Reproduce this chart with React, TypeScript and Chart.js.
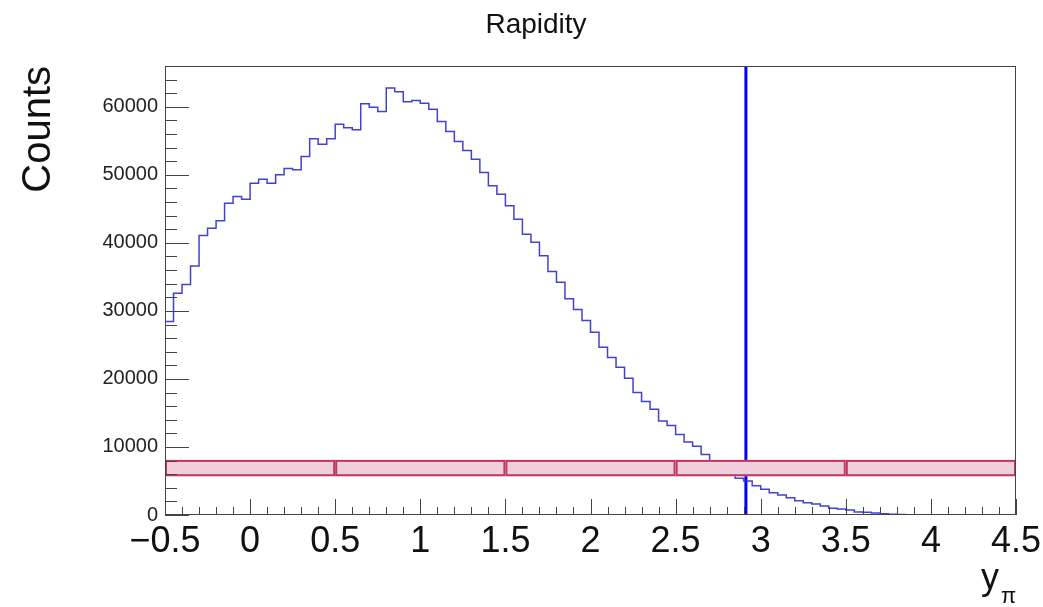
import React, { useEffect, useRef } from 'react';
import { Chart, registerables } from 'chart.js';

Chart.register(...registerables);

// ---------- data ----------
const chartTitle = 'Rapidity';
const yAxisTitle = 'Counts';
const xAxisTitleMain = 'y';
const xAxisTitleSub = 'π';

const binLowEdge = -0.5;
const binWidth = 0.05;
const counts = [
  28430, 32600, 33900, 36600, 41080, 42160, 43240, 45830, 46810, 46420,
  48770, 49360, 48770, 50000, 50930, 50740, 52700, 55290, 54510, 55290,
  57450, 56910, 56620, 60440, 59950, 59310, 62750, 62200, 60740, 60930,
  60540, 59660, 57840, 56370, 54900, 53580, 52300, 50340, 48380, 47160,
  45440, 43480, 41270, 40100, 38100, 35780, 34200, 31780, 30200, 28580,
  26870, 24660, 23140, 21710, 20100, 17990, 16670, 15540, 13820, 13140,
  11850, 10720, 10100, 8880, 7700, 6900, 6150, 5390, 5000, 4300,
  3770, 3280, 2940, 2550, 2110, 1810, 1620, 1320, 980, 880,
  740, 440, 390, 290, 200, 120, 80, 50, 30, 10,
  0, 0, 0, 0, 0, 0, 0, 0, 0, 0,
];

const cutValue = 2.913;

// boxes: [boxLeft[i], boxRight[i]] x [boxLow, boxHigh]
const boxLeft = [-0.5, 0.5, 1.5, 2.5, 3.5];
const boxRight = [0.5, 1.5, 2.5, 3.5, 4.5];
const boxLow = [5700, 5700, 5700, 5700, 5700];
const boxHigh = [8100, 8100, 8100, 8100, 8100];

const xMin = -0.5;
const xMax = 4.5;
const yMin = 0;
const yMax = 66000;

const xTickValues = [-0.5, 0, 0.5, 1, 1.5, 2, 2.5, 3, 3.5, 4, 4.5];
const xTickLabels = ['\u22120.5', '0', '0.5', '1', '1.5', '2', '2.5', '3', '3.5', '4', '4.5'];
const xMinorStep = 0.1;
const yTickValues = [0, 10000, 20000, 30000, 40000, 50000, 60000];
const yTickLabels = ['0', '10000', '20000', '30000', '40000', '50000', '60000'];
const yMinorStep = 2000;

// ---------- styling ----------
const FONT = "'Liberation Sans', Arial, Helvetica, sans-serif";
const BOX_FILL = 'rgb(240,206,219)';
const BOX_LINE = 'rgb(196,52,96)';
const BOX_LW = 2;

const rootDecor = {
  id: 'rootDecor',
  afterDatasetDraw(chart: any, args: any) {
    // boxes drawn right after the histogram (dataset 0), below the cut line
    if (args.index !== 0) return;
    const { ctx, chartArea: a, scales } = chart;
    const xs = scales.x;
    const ys = scales.y;
    ctx.save();
    ctx.beginPath();
    ctx.rect(a.left, a.top, a.right - a.left, a.bottom - a.top);
    ctx.clip();
    for (let i = 0; i < boxLeft.length; i++) {
      const x0 = xs.getPixelForValue(boxLeft[i]);
      const x1 = xs.getPixelForValue(boxRight[i]);
      const y0 = ys.getPixelForValue(boxHigh[i]);
      const y1 = ys.getPixelForValue(boxLow[i]);
      ctx.fillStyle = BOX_FILL;
      ctx.fillRect(x0, y0, x1 - x0, y1 - y0);
      ctx.strokeStyle = BOX_LINE;
      ctx.lineWidth = BOX_LW;
      const h = BOX_LW / 2;
      ctx.strokeRect(x0 + h, y0 + h, x1 - x0 - BOX_LW, y1 - y0 - BOX_LW);
    }
    ctx.restore();
  },
  afterDatasetsDraw(chart: any) {
    const { ctx, chartArea: a, scales } = chart;
    const xs = scales.x;
    const ys = scales.y;
    ctx.save();
    ctx.strokeStyle = '#444';
    ctx.lineWidth = 1;
    // frame
    ctx.strokeRect(Math.round(a.left) + 0.5, Math.round(a.top) + 0.5,
      Math.round(a.right - a.left) - 1, Math.round(a.bottom - a.top) - 1);
    // y ticks (inside)
    ctx.beginPath();
    const nY = Math.round((yMax - yMin) / yMinorStep);
    for (let i = 0; i <= nY; i++) {
      const v = yMin + i * yMinorStep;
      const py = Math.round(ys.getPixelForValue(v)) + 0.5;
      const major = Math.abs(v % 10000) < 1e-6;
      ctx.moveTo(a.left, py);
      ctx.lineTo(a.left + (major ? 24 : 12), py);
    }
    // x ticks (inside)
    const nX = Math.round((xMax - xMin) / xMinorStep);
    for (let i = 0; i <= nX; i++) {
      const v = xMin + i * xMinorStep;
      const px = Math.round(xs.getPixelForValue(v)) + 0.5;
      const major = i % 5 === 0;
      ctx.moveTo(px, a.bottom);
      ctx.lineTo(px, a.bottom - (major ? 16 : 8));
    }
    ctx.stroke();
    ctx.restore();
  },
  afterDraw(chart: any) {
    const { ctx, chartArea: a } = chart;
    ctx.save();
    ctx.fillStyle = '#111';
    // title
    ctx.font = `28px ${FONT}`;
    ctx.textAlign = 'center';
    ctx.textBaseline = 'alphabetic';
    ctx.fillText(chartTitle, 536, 33);
    // y axis title
    ctx.save();
    ctx.translate(50, a.top);
    ctx.rotate(-Math.PI / 2);
    ctx.font = `40px ${FONT}`;
    ctx.textAlign = 'right';
    ctx.fillText(yAxisTitle, 0, 0);
    ctx.restore();
    // x axis title
    ctx.textAlign = 'left';
    ctx.font = `36px ${FONT}`;
    ctx.fillText(xAxisTitleMain, 981, 589);
    ctx.font = `22px ${FONT}`;
    ctx.fillText(xAxisTitleSub, 1001, 603);
    ctx.restore();
  },
};

export default function App() {
  const canvasRef = useRef<HTMLCanvasElement | null>(null);

  useEffect(() => {
    document.body.style.margin = '0';
    document.body.style.background = '#fff';
    const canvas = canvasRef.current;
    if (!canvas) return;

    const histPoints = [
      { x: binLowEdge, y: 0 },
      ...counts.map((c, i) => ({ x: binLowEdge + i * binWidth, y: c })),
      { x: binLowEdge + counts.length * binWidth, y: 0 },
    ];

    const chart = new Chart(canvas, {
      type: 'line',
      data: {
        datasets: [
          {
            type: 'line',
            label: 'hist',
            data: histPoints,
            stepped: 'before',
            borderColor: 'rgba(45,45,205,0.9)',
            borderWidth: 1.5,
            pointRadius: 0,
            fill: false,
            tension: 0,
          } as any,
          {
            type: 'line',
            label: 'cut',
            data: [{ x: cutValue, y: yMin }, { x: cutValue, y: yMax }],
            borderColor: 'rgb(0,0,255)',
            borderWidth: 3,
            pointRadius: 0,
            fill: false,
          } as any,
        ],
      },
      options: {
        animation: false,
        responsive: false,
        devicePixelRatio: 1,
        layout: { padding: { top: 66, left: 0, right: 27, bottom: 0 } },
        plugins: {
          legend: { display: false },
          title: { display: false },
          tooltip: { enabled: false },
        },
        scales: {
          x: {
            type: 'linear',
            min: xMin,
            max: xMax,
            offset: false,
            grid: { display: false, drawTicks: false },
            border: { display: false },
            afterBuildTicks: (s: any) => {
              s.ticks = xTickValues.map((v) => ({ value: v }));
            },
            afterFit: (s: any) => {
              s.height = 92;
              s.paddingLeft = 0;
              s.paddingRight = 0;
            },
            ticks: {
              autoSkip: false,
              maxRotation: 0,
              minRotation: 0,
              padding: 9,
              color: '#111',
              font: { family: FONT, size: 36, lineHeight: 1 },
              callback: (_v: any, i: number) => xTickLabels[i],
            },
          },
          y: {
            type: 'linear',
            min: yMin,
            max: yMax,
            grid: { display: false, drawTicks: false },
            border: { display: false },
            afterBuildTicks: (s: any) => {
              s.ticks = yTickValues.map((v) => ({ value: v }));
            },
            afterFit: (s: any) => {
              s.width = 165;
              s.paddingTop = 0;
              s.paddingBottom = 0;
            },
            ticks: {
              padding: 7,
              color: '#222',
              font: { family: FONT, size: 20, lineHeight: 1 },
              callback: (_v: any, i: number) => yTickLabels[i],
            },
          },
        },
      },
      plugins: [rootDecor],
    } as any);

    return () => {
      chart.destroy();
    };
  }, []);

  return (
    <div style={{ width: 1043, height: 607 }}>
      <canvas ref={canvasRef} width={1043} height={607} style={{ display: 'block' }} />
    </div>
  );
}
